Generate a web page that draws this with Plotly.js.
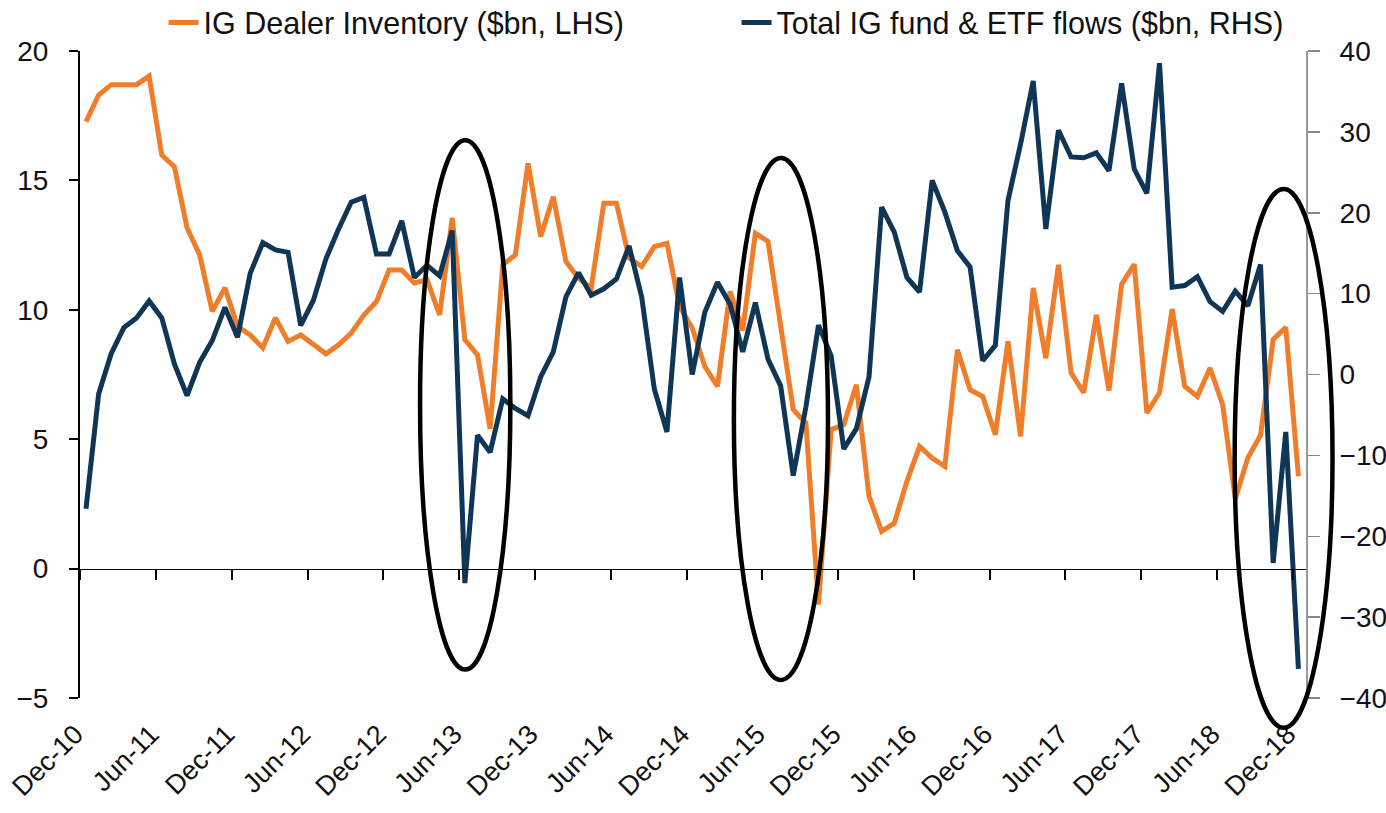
<!DOCTYPE html>
<html>
<head>
<meta charset="utf-8">
<script src="https://cdn.plot.ly/plotly-3.0.1.min.js"></script>
<style>
  html, body { margin: 0; padding: 0; background: #ffffff; }
  #chart { width: 1386px; height: 813px; }
</style>
</head>
<body>
<div id="chart"></div>
<script>
// Monthly observations Dec-10 .. Dec-18 (97 months)
const monthLabels = ["Dec-10","Jun-11","Dec-11","Jun-12","Dec-12","Jun-13","Dec-13","Jun-14","Dec-14","Jun-15","Dec-15","Jun-16","Dec-16","Jun-17","Dec-17","Jun-18","Dec-18"];
const monthsPerLabel = 6;

// IG Dealer Inventory ($bn, LHS)
const dealerInventory = [
  17.27, 18.3, 18.7, 18.7, 18.7, 19.03, 15.98, 15.53, 13.17, 12.12,
  9.94, 10.85, 9.36, 9.03, 8.53, 9.69, 8.78, 9.03, 8.65, 8.3,
  8.65, 9.1, 9.8, 10.32, 11.54, 11.54, 11.04, 11.16, 9.8, 13.55,
  8.84, 8.26, 5.4, 11.74, 12.12, 15.66, 12.83, 14.37, 11.87, 11.22,
  10.84, 14.12, 14.12, 12.0, 11.67, 12.44, 12.57, 10.13, 9.3, 7.81,
  7.04, 10.71, 9.2, 12.96, 12.64, 9.36, 6.14, 5.63, -1.39, 5.37,
  5.56, 7.1, 2.79, 1.44, 1.76, 3.37, 4.72, 4.27, 3.95, 8.46,
  6.91, 6.65, 5.17, 8.78, 5.11, 10.84, 8.13, 11.74, 7.56, 6.8,
  9.8, 6.88, 10.98, 11.76, 6.01, 6.8, 10.03, 7.04, 6.65, 7.75,
  6.33, 2.7, 4.28, 5.15, 8.85, 9.32, 3.57
];

// Total IG fund & ETF flows ($bn, RHS)
const fundFlows = [
  -16.6, -2.4, 2.6, 5.8, 7.0, 9.1, 7.0, 1.3, -2.6, 1.5,
  4.2, 8.3, 4.6, 12.5, 16.3, 15.4, 15.1, 6.06, 9.15, 14.3,
  18.0, 21.3, 21.9, 14.9, 14.9, 19.0, 12.0, 13.5, 12.2, 17.8,
  -25.8, -7.5, -9.6, -3.0, -4.2, -5.1, -0.3, 2.8, 9.6, 12.6,
  9.8, 10.6, 11.8, 15.9, 9.6, -1.8, -7.1, 12.0, 0.0, 7.7,
  11.4, 8.7, 2.8, 8.9, 1.9, -1.4, -12.5, -4.0, 6.1, 2.3,
  -9.2, -6.7, -0.3, 20.7, 17.6, 12.0, 10.2, 24.0, 20.1, 15.3,
  13.3, 1.7, 3.6, 21.5, 28.5, 36.3, 18.0, 30.2, 26.9, 26.8,
  27.4, 25.2, 36.0, 25.4, 22.4, 38.5, 10.8, 11.0, 12.1, 9.0,
  7.8, 10.3, 8.5, 13.6, -23.3, -7.1, -36.4
];

const seriesNames = ["IG Dealer Inventory ($bn, LHS)", "Total IG fund & ETF flows ($bn, RHS)"];
const colors = ["#F07D2A", "#0F3557"];

// Highlight ellipses in (month index, LHS value) units
const ellipseX0 = [26.45, 51.3, 90.95];
const ellipseX1 = [33.6, 58.75, 98.7];
const ellipseY0 = [-3.9, -4.3, -6.15];
const ellipseY1 = [16.55, 15.87, 14.67];

const idx = dealerInventory.map((_, i) => i);
const xRange = [-0.475, 96.6];
const yRange = [-5, 20];
const y2Range = [-40, 40];
const tickOffset = -0.45;
const tickVals = monthLabels.map((_, k) => k * monthsPerLabel + tickOffset);

const FONT = "Liberation Sans, Arial, sans-serif";

const traces = [
  {
    x: idx, y: dealerInventory, name: seriesNames[0], type: "scatter", mode: "lines",
    line: { color: colors[0], width: 5 }, xaxis: "x", yaxis: "y"
  },
  {
    x: idx, y: fundFlows, name: seriesNames[1], type: "scatter", mode: "lines",
    line: { color: colors[1], width: 5 }, xaxis: "x2", yaxis: "y2"
  }
];

const toPx = v => (v - xRange[0]) / (xRange[1] - xRange[0]);
const toPy = v => (v - yRange[0]) / (yRange[1] - yRange[0]);
const shapes = ellipseX0.map((_, k) => ({
  type: "circle", xref: "paper", yref: "paper",
  x0: toPx(ellipseX0[k]), x1: toPx(ellipseX1[k]),
  y0: toPy(ellipseY0[k]), y1: toPy(ellipseY1[k]),
  line: { color: "#000000", width: 4.5 }, layer: "above"
}));

const layout = {
  width: 1386, height: 813,
  margin: { l: 80, r: 80, t: 51, b: 115 },
  paper_bgcolor: "#ffffff", plot_bgcolor: "#ffffff",
  font: { family: FONT, color: "#111111", size: 24 },
  showlegend: true,
  legend: {
    orientation: "h", xref: "container", yref: "container",
    x: 0.118, xanchor: "left", y: 0.972, yanchor: "middle",
    font: { family: FONT, size: 30.5, color: "#111111" },
    entrywidth: 528, entrywidthmode: "pixels", bgcolor: "rgba(0,0,0,0)"
  },
  xaxis: {
    range: xRange, tickmode: "array", tickvals: tickVals, ticktext: monthLabels,
    tickangle: -45, ticks: "", showline: false, showgrid: false, zeroline: false,
    tickfont: { family: FONT, size: 27, color: "#111111" },
    ticklabelstandoff: 14, ticklabelshift: -5
  },
  xaxis2: {
    range: xRange, overlaying: "x", anchor: "free", position: toPy(0),
    tickmode: "array", tickvals: tickVals, showticklabels: false,
    ticks: "outside", ticklen: 10, tickwidth: 2, tickcolor: "#000000",
    showline: true, linecolor: "#000000", linewidth: 1.8,
    showgrid: false, zeroline: false
  },
  yaxis: {
    range: yRange, dtick: 5, tick0: 0, ticks: "outside", ticklen: 9, tickwidth: 2,
    tickcolor: "#000000", showline: true, linecolor: "#000000", linewidth: 2,
    showgrid: false, zeroline: false,
    tickfont: { family: FONT, size: 28, color: "#111111" },
    ticklabelstandoff: 15
  },
  yaxis2: {
    range: y2Range, dtick: 10, tick0: 0, overlaying: "y", side: "right", anchor: "x",
    ticks: "outside", ticklen: 12, tickwidth: 1.5, tickcolor: "#888888",
    showline: true, linecolor: "#999999", linewidth: 2,
    showgrid: false, zeroline: false,
    tickfont: { family: FONT, size: 28, color: "#111122" },
    ticklabelstandoff: 14
  },
  shapes: shapes
};

Plotly.newPlot("chart", traces, layout, { displayModeBar: false, staticPlot: true });
</script>
</body>
</html>
